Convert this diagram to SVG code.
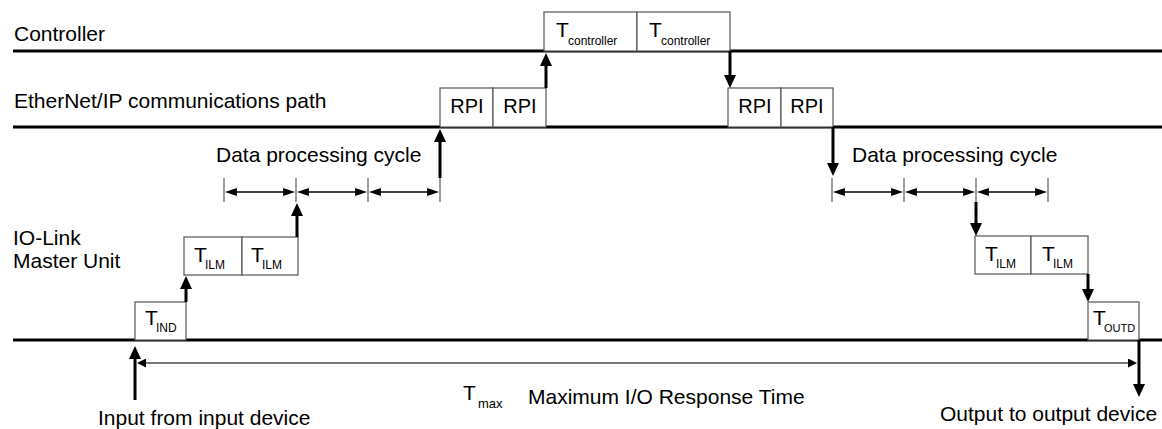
<svg xmlns="http://www.w3.org/2000/svg" width="1162" height="429" viewBox="0 0 1162 429">
<style>
text{font-family:"Liberation Sans",Arial,sans-serif;fill:#000}
.lbl{font-size:21px}
.bt{font-size:21px}
.sub{font-size:12px}
.rpi{font-size:20px;text-anchor:middle}
.box{fill:#fff;stroke:#555;stroke-width:1.2}
.main{stroke:#000;stroke-width:3;fill:none}
.thick{stroke:#000;stroke-width:3;fill:none;marker-end:url(#hd)}
.dim{stroke:#000;stroke-width:1.5;fill:none;marker-start:url(#sh);marker-end:url(#sh)}
.tick{stroke:#666;stroke-width:1.3}
.tmax{stroke:#777;stroke-width:1.8;fill:none;marker-start:url(#gh);marker-end:url(#gh)}
</style>
<defs>
<marker id="hd" markerUnits="userSpaceOnUse" markerWidth="13" markerHeight="12" refX="0" refY="6" orient="auto"><path d="M0,0 L13,6 L0,12 z" fill="#000"/></marker>
<marker id="sh" markerUnits="userSpaceOnUse" markerWidth="12" markerHeight="8" refX="0" refY="4" orient="auto-start-reverse"><path d="M0,0 L12,4 L0,8 z" fill="#000"/></marker>
<marker id="gh" markerUnits="userSpaceOnUse" markerWidth="9" markerHeight="9" refX="0" refY="4.5" orient="auto-start-reverse"><path d="M0,0 L9,4.5 L0,9 z" fill="#000"/></marker>
</defs>

<g id="lanes">
<line class="main" x1="13" y1="51" x2="1162" y2="51"/>
<line class="main" x1="13" y1="127" x2="1162" y2="127"/>
<line class="main" x1="13" y1="340" x2="1162" y2="340"/>
<text class="lbl" x="14" y="41">Controller</text>
<text class="lbl" x="14" y="108">EtherNet/IP communications path</text>
<text class="lbl" x="13" y="245">IO-Link</text>
<text class="lbl" x="13" y="268">Master Unit</text>
</g>

<g id="controller1"><rect class="box" x="544" y="12" width="93" height="39"/><text class="bt" x="556" y="37">T</text><text class="sub" x="568" y="45">controller</text></g>
<g id="controller2"><rect class="box" x="637" y="12" width="93" height="39"/><text class="bt" x="649" y="37">T</text><text class="sub" x="661" y="45">controller</text></g>

<g id="rpi1"><rect class="box" x="440" y="88" width="53" height="39"/><text class="rpi" x="467" y="113">RPI</text></g>
<g id="rpi2"><rect class="box" x="493" y="88" width="53" height="39"/><text class="rpi" x="520" y="113">RPI</text></g>
<g id="rpi3"><rect class="box" x="728" y="88" width="53" height="39"/><text class="rpi" x="755" y="113">RPI</text></g>
<g id="rpi4"><rect class="box" x="781" y="88" width="52" height="39"/><text class="rpi" x="807" y="113">RPI</text></g>

<g id="ilm1"><rect class="box" x="184" y="237" width="58" height="38"/><text class="bt" x="194" y="262">T</text><text class="sub" x="205" y="269">ILM</text></g>
<g id="ilm2"><rect class="box" x="242" y="237" width="56" height="38"/><text class="bt" x="251" y="262">T</text><text class="sub" x="262" y="269">ILM</text></g>
<g id="ilm3"><rect class="box" x="975" y="236" width="56" height="38"/><text class="bt" x="985" y="261">T</text><text class="sub" x="996" y="268">ILM</text></g>
<g id="ilm4"><rect class="box" x="1031" y="236" width="57" height="38"/><text class="bt" x="1042" y="261">T</text><text class="sub" x="1053" y="268">ILM</text></g>

<g id="tind"><rect class="box" x="135" y="302" width="51" height="38"/><text class="bt" x="145" y="325">T</text><text class="sub" x="156" y="332">IND</text></g>
<g id="toutd"><rect class="box" x="1088" y="302" width="51" height="38"/><text class="bt" x="1093" y="325">T</text><text class="sub" x="1104" y="332" style="font-size:11px">OUTD</text></g>

<g id="dpc-left">
<text class="lbl" x="216" y="162">Data processing cycle</text>
<line class="tick" x1="224" y1="178" x2="224" y2="202"/>
<line class="tick" x1="296" y1="178" x2="296" y2="202"/>
<line class="tick" x1="368" y1="178" x2="368" y2="202"/>
<line class="tick" x1="440" y1="178" x2="440" y2="202"/>
</g>
<g id="dpc-right">
<text class="lbl" x="852" y="162">Data processing cycle</text>
<line class="tick" x1="832" y1="178" x2="832" y2="202"/>
<line class="tick" x1="904" y1="178" x2="904" y2="202"/>
<line class="tick" x1="976" y1="178" x2="976" y2="202"/>
<line class="tick" x1="1048" y1="178" x2="1048" y2="202"/>
</g>

<g id="tmax-label">
<text class="bt" x="463" y="400">T</text><text class="sub" x="478" y="408" style="font-size:13px">max</text>
<text class="lbl" x="528" y="404">Maximum I/O Response Time</text>
<text class="lbl" x="98" y="425">Input from input device</text>
<text class="lbl" x="940" y="421">Output to output device</text>
</g>

<g id="connectors">
<path class="thick" d="M135,400 V359"/>
<path class="thick" d="M186,302 V289"/>
<path class="thick" d="M297,237 V216"/>
<path class="thick" d="M440,178 V142"/>
<path class="thick" d="M546,88 V66"/>
<path class="thick" d="M730,51 V75"/>
<path class="thick" d="M833,127 V163"/>
<path class="thick" d="M976,202 V223"/>
<path class="thick" d="M1088,274 V289"/>
<path class="thick" d="M1139,340 V384"/>
<path class="dim" d="M237,192 H283"/>
<path class="dim" d="M309,192 H355"/>
<path class="dim" d="M381,192 H427"/>
<path class="dim" d="M845,192 H891"/>
<path class="dim" d="M917,192 H963"/>
<path class="dim" d="M989,192 H1035"/>
<path class="tmax" d="M146,363 H1128"/>
</g>
</svg>
